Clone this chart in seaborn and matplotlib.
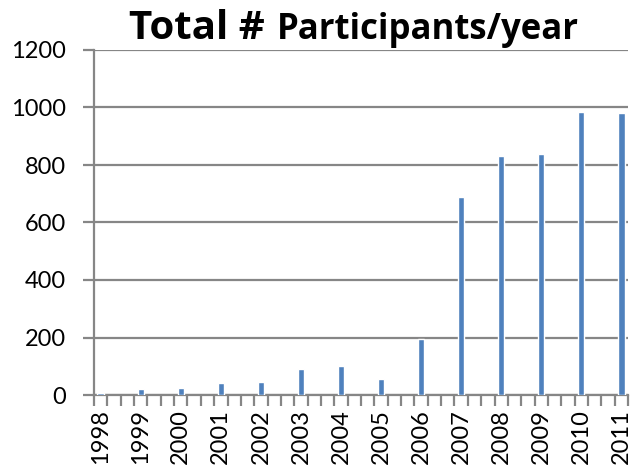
import numpy as np
import pandas as pd
import matplotlib
matplotlib.use("Agg")
import matplotlib.pyplot as plt
from matplotlib.ticker import FixedLocator
import seaborn as sns

years = [1998, 1999, 2000, 2001, 2002, 2003, 2004, 2005, 2006, 2007, 2008, 2009, 2010, 2011]
participants = [8, 21, 25, 43, 46, 89, 101, 55, 195, 690, 831, 837, 983, 980]
y_ticks = [0, 200, 400, 600, 800, 1000, 1200]
title_big = "Total #"
title_small = "Participants/year"

df = pd.DataFrame({"year": years, "participants": participants})

sns.set_style("white")
plt.rcParams["font.family"] = ["Lato", "DejaVu Sans"]
plt.rcParams["text.color"] = "black"

grey = "#868686"
bar_color = "#4F81BD"

fig = plt.figure(figsize=(6.4, 4.68), dpi=100)
ax = fig.add_axes([94 / 640, 1 - 395 / 468, (628 - 94) / 640, (395 - 50) / 468])

sns.barplot(data=df, x="year", y="participants", native_scale=True, width=0.16,
            color=bar_color, saturation=1, ax=ax, zorder=3)

ax.set_xlim(years[0] - 1 / 6, years[-1] + 1 / 6)
ax.set_ylim(0, 1200)
ax.set_yticks(y_ticks)
ax.set_yticklabels([str(v) for v in y_ticks], fontsize=17)
ax.yaxis.grid(True, color=grey, linewidth=1.6, zorder=0)
ax.xaxis.grid(False)

ax.set_xticks(years)
ax.set_xticklabels([str(y) for y in years], rotation=90, fontsize=17)
minor = [years[0] - 1 / 6 + k / 3 for k in range(3 * (len(years) - 1) + 2)]
ax.xaxis.set_minor_locator(FixedLocator(minor))
ax.tick_params(axis="x", which="major", length=0, pad=10, labelcolor="black")
ax.tick_params(axis="x", which="minor", length=8, width=1.6, color=grey, direction="out", bottom=True)
ax.tick_params(axis="y", which="major", length=8, width=1.6, color=grey, direction="out", left=True,
               pad=12, labelcolor="black")

for s in ["top", "right"]:
    ax.spines[s].set_visible(False)
for s in ["left", "bottom"]:
    ax.spines[s].set_color(grey)
    ax.spines[s].set_linewidth(1.6)
ax.set_xlabel("")
ax.set_ylabel("")

fig.text(265 / 640, 1 - 39 / 468, title_big, ha="right", va="baseline", color="black",
         fontsize=29, fontweight="bold", family=["Open Sans", "DejaVu Sans"])
fig.text(277 / 640, 1 - 39 / 468, title_small, ha="left", va="baseline", color="black",
         fontsize=25, fontweight="bold", family=["Open Sans", "DejaVu Sans"])

fig.savefig("out.png", dpi=100)
